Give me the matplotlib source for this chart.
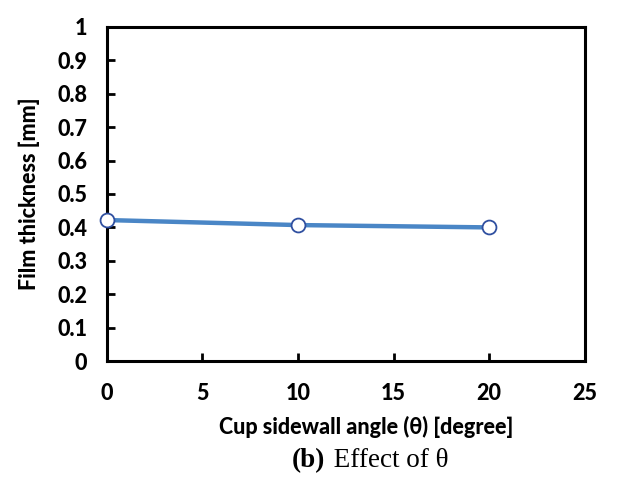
import matplotlib
matplotlib.use("Agg")
import matplotlib.pyplot as plt

angles = [0, 10, 20]
thickness = [0.422, 0.407, 0.400]
xticks = [0, 5, 10, 15, 20, 25]
yticks = [0, 0.1, 0.2, 0.3, 0.4, 0.5, 0.6, 0.7, 0.8, 0.9, 1.0]
ytick_labels = ["0", "0.1", "0.2", "0.3", "0.4", "0.5", "0.6", "0.7", "0.8", "0.9", "1"]

fig = plt.figure(figsize=(6.44, 4.88), dpi=100)
ax = fig.add_axes([0.166, 0.260, 0.742, 0.685])
ax.plot(angles, thickness, color="#4a86c6", lw=3.2, marker="o", ms=10,
        mfc="white", mec="#2f4fa0", mew=1.3, zorder=3, clip_on=False)
ax.set_xlim(0, 25)
ax.set_ylim(0, 1)
ax.set_xticks(xticks)
ax.set_xticklabels([str(t) for t in xticks])
ax.set_yticks(yticks)
ax.set_yticklabels(ytick_labels)
for s in ax.spines.values():
    s.set_linewidth(2.2)
ax.tick_params(direction="in", length=6, width=2, top=False, right=False)
ax.tick_params(axis="x", pad=16)
ax.tick_params(axis="y", pad=14)
for lab in ax.get_xticklabels() + ax.get_yticklabels():
    lab.set_fontfamily("Lato")
    lab.set_fontweight(900)
    lab.set_fontsize(15.5)
ax.set_xlabel("Cup sidewall angle (θ) [degree]", fontfamily="Lato", fontweight=900, fontsize=15.5)
ax.xaxis.set_label_coords(0.543, -0.163)
ax.set_ylabel("Film thickness [mm]", fontfamily="Lato", fontweight=900, fontsize=15.5)
ax.yaxis.set_label_coords(-0.14, 0.5)
fig.text(0.505, 0.057, "(b)", fontfamily="Liberation Serif", fontweight="bold", fontsize=19.5, ha="right", va="center")
fig.text(0.507, 0.057, " Effect of θ", fontfamily="Liberation Serif", fontsize=19.5, ha="left", va="center")
fig.savefig("out.png", dpi=100)
